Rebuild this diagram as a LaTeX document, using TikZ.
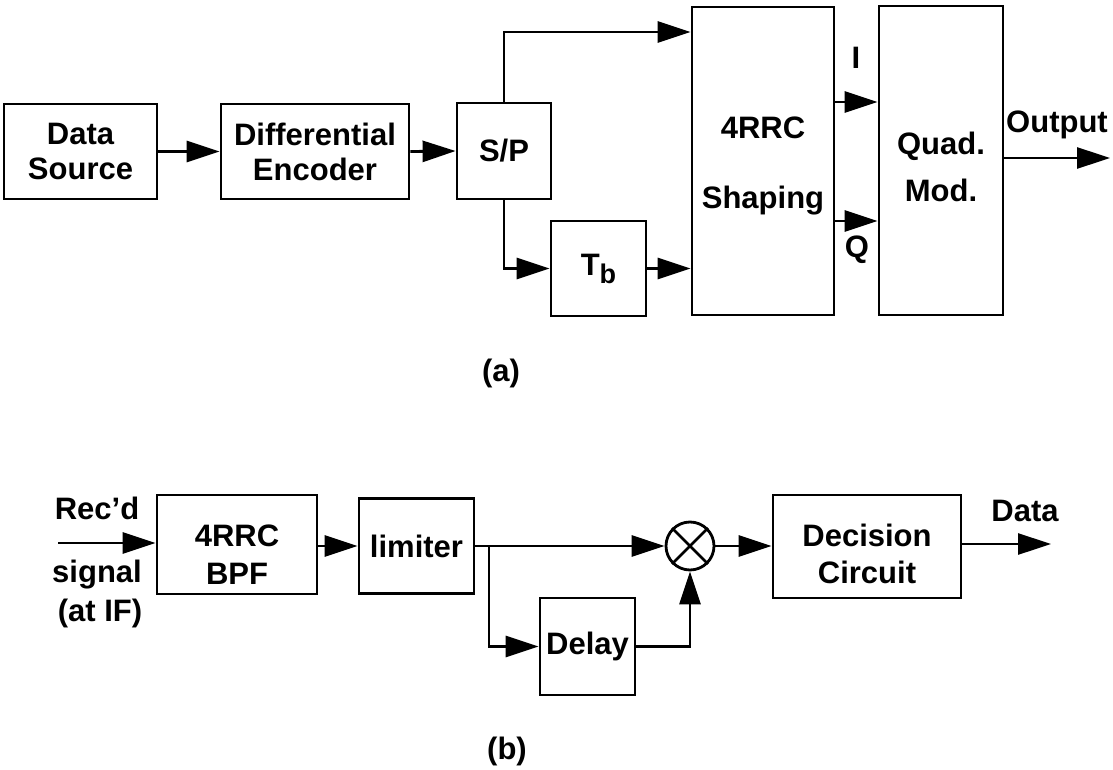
\documentclass[tikz,border=0pt]{standalone}
\usepackage{fontspec}
\setmainfont{Liberation Sans}
\usetikzlibrary{arrows.meta}
\begin{document}
\begin{tikzpicture}[x=1pt,y=-1pt,
  every node/.style={font=\fontsize{31}{35}\selectfont\bfseries, inner sep=0pt},
  blk/.style={draw, line width=2.8pt, align=center},
  arr/.style={line width=2.8pt, -{Triangle[length=33pt,width=21pt]}},
  ln/.style={line width=2.8pt}]
\useasboundingbox (0,0) rectangle (1113,770);
% ---------- (a) transmitter ----------
\node[blk, minimum width=153pt, minimum height=95pt] (ds) at (80.5,151.5) {Data\\Source};
\node[blk, minimum width=188pt, minimum height=95pt] (de) at (315,151.5) {Differential\\Encoder};
\node[blk, minimum width=94pt, minimum height=96pt] (sp) at (504,151) {S/P};
\node[blk, minimum width=95pt, minimum height=95pt] (tb) at (598.5,268.5) {T\raisebox{-8pt}{\fontsize{27}{27}\selectfont b}};
\node[blk, minimum width=142pt, minimum height=308pt] (sh) at (763,161) {\rule{0pt}{31pt}4RRC\\[35pt]Shaping};
\node[blk, minimum width=124pt, minimum height=309pt] (qm) at (941,160.5) {\rule{0pt}{35pt}Quad.\\[12pt]Mod.};
\coordinate (yTop) at (0,32);
\coordinate (yI) at (0,102);
\coordinate (yQ) at (0,221);
\coordinate (outEnd) at (1110,158);
\draw[arr] (ds.east) -- (de.west);
\draw[arr] (de.east) -- (sp.west);
\draw[arr] (sp.north) |- (sh.west |- yTop);
\draw[arr] (sp.south) |- (tb.west);
\draw[arr] (tb.east) -- (sh.west |- tb.east);
\draw[arr] (sh.east |- yI) -- (qm.west |- yI);
\draw[arr] (sh.east |- yQ) -- (qm.west |- yQ);
\draw[arr] (qm.east |- outEnd) -- (outEnd);
\node (lI) at (856,58) {I};
\node (lQ) at (857,250) {Q};
\node (lOut) at (1057,125) {Output};
\node (la) at (501,373) {(a)};
% ---------- (b) receiver ----------
\node (rec) at (97,508) {Rec’d};
\node (sig) at (97,575) {signal};
\node (atif) at (100,613) {(at IF)};
\coordinate (inStart) at (58,543);
\node[blk, minimum width=160pt, minimum height=99pt] (bpf) at (237,544.5) {\rule{0pt}{42pt}4RRC\\[3pt]BPF};
\node[blk, minimum width=115pt, minimum height=95pt] (lim) at (416.5,546) {limiter};
\node[draw, circle, line width=2.8pt, minimum size=48pt] (mx) at (690,546) {};
\draw[ln] (mx.north west) -- (mx.south east) (mx.north east) -- (mx.south west);
\node[blk, minimum width=95pt, minimum height=97pt] (dl) at (587.5,646.5) {Delay};
\node[blk, minimum width=188pt, minimum height=103pt] (dc) at (867,546.5) {\rule{0pt}{37pt}Decision\\[2pt]Circuit};
\coordinate (br) at (489,546);
\coordinate (dataEnd) at (1051,544);
\draw[arr] (inStart) -- (bpf.west |- inStart);
\draw[arr] (bpf.east |- lim.west) -- (lim.west);
\draw[arr] (lim.east) -- (mx.west);
\draw[arr] (br) |- (dl.west);
\draw[arr] (dl.east) -| (mx.south);
\draw[arr] (mx.east) -- (dc.west |- mx.east);
\draw[arr] (dc.east |- dataEnd) -- (dataEnd);
\node (ldata) at (1025,511) {Data};
\node (lb) at (507,751) {(b)};
\end{tikzpicture}
\end{document}
